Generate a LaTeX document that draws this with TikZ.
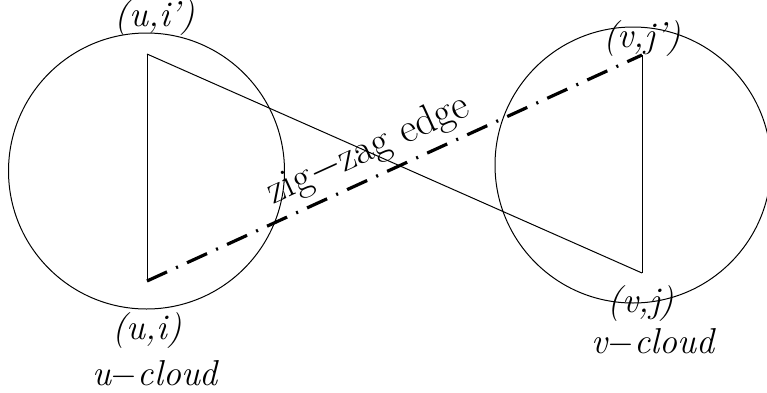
\documentclass[tikz,border=0pt]{standalone}
\usepackage{tikz}
\usetikzlibrary{positioning}
\tikzset{
  cloud/.style={circle, draw, line width=0.5pt, inner sep=0pt, minimum size=138pt},
  vlabel/.style={font=\fontsize{18}{21}\selectfont\itshape, inner sep=0pt},
  zigzag/.style={line width=1.6pt, dash pattern=on 11pt off 5pt on 1pt off 5pt},
}

\begin{document}
\begin{tikzpicture}[x=0.5pt, y=-0.5pt, line width=0.5pt]
    \useasboundingbox (0,0) rectangle (767,392);
    % the two clouds
    \node[cloud] (ucloud) at (146.5,171) {};
    \node[cloud] (vcloud) at (633,165) {};
    % vertices
    \coordinate (uip) at (147,54);
    \coordinate (ui) at (147,281);
    \coordinate (vjp) at (642,55);
    \coordinate (vj) at (642,273);
    \draw (uip) -- (ui);
    \draw (vjp) -- (vj);
    \draw (uip) -- (vj);
    \draw[zigzag] (ui) -- (vjp)
        node[pos=0.47, sloped, above, inner sep=3.5pt, font=\fontsize{20.5}{24}\selectfont] (zzlabel) {zig$-$zag edge};
    % labels
    \node[vlabel] (uiplabel) at (155,18) {(u,i')};
    \node[vlabel] (uilabel) at (147,331) {(u,i)};
    \node[vlabel] (uname) at (155,374) {u$-$cloud};
    \node[vlabel] (vjplabel) at (642,39) {(v,j')};
    \node[vlabel] (vjlabel) at (641,304) {(v,j)};
    \node[vlabel] (vname) at (653,342) {v$-$cloud};
\end{tikzpicture}
\end{document}
